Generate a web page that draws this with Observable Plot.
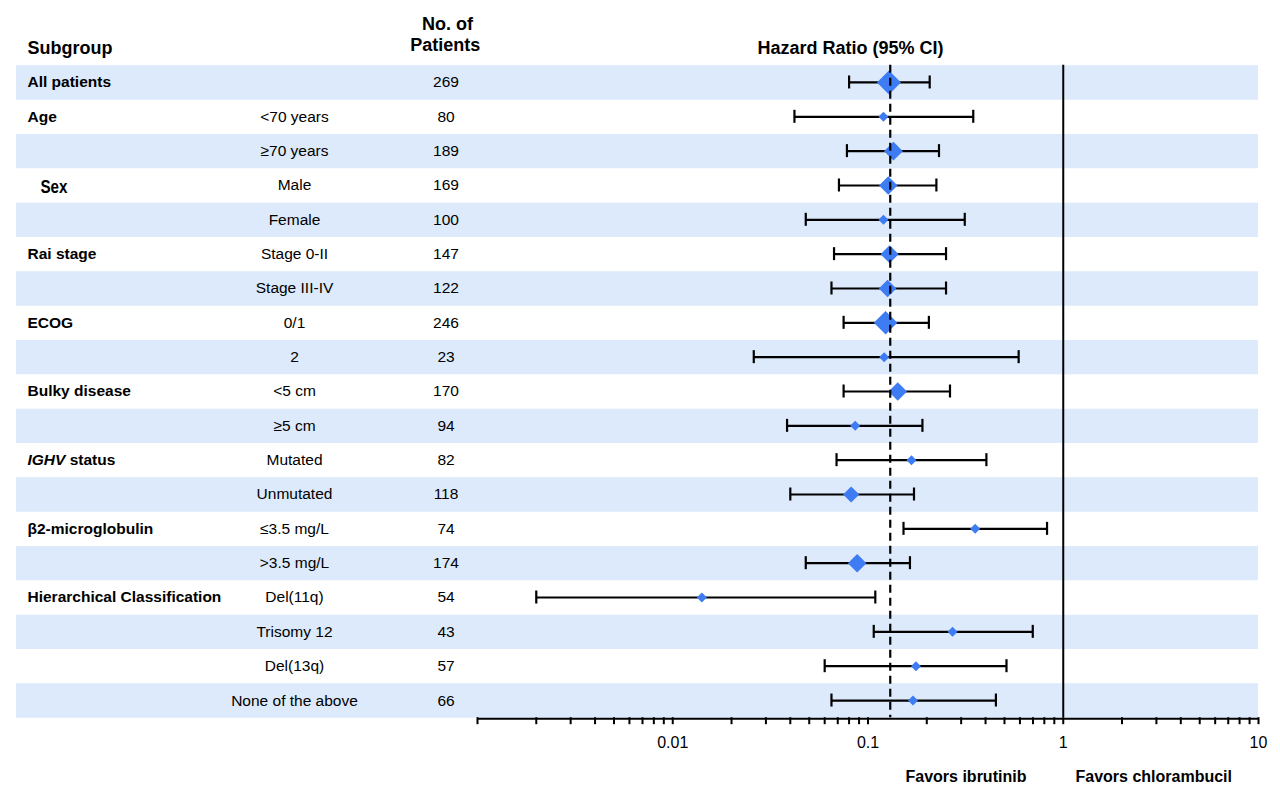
<!DOCTYPE html>
<html>
<head>
<meta charset="utf-8">
<script src="https://cdn.jsdelivr.net/npm/d3@7"></script>
<script src="https://cdn.jsdelivr.net/npm/@observablehq/plot@0.6"></script>
<style>
  html, body { margin: 0; padding: 0; background: #fff; overflow: hidden; }
  #chart svg { display: block; }
</style>
</head>
<body>
<div id="chart"></div>
<script>
// ---- data ----
const groups = ["All patients", "Age", "", "Sex", "", "Rai stage", "", "ECOG", "", "Bulky disease", "",
  "IGHV status", "", "β2-microglobulin", "", "Hierarchical Classification", "", "", ""];
const categories = ["", "<70 years", "≥70 years", "Male", "Female", "Stage 0-II", "Stage III-IV", "0/1", "2",
  "<5 cm", "≥5 cm", "Mutated", "Unmutated", "≤3.5 mg/L", ">3.5 mg/L", "Del(11q)", "Trisomy 12", "Del(13q)", "None of the above"];
const patients = [269, 80, 189, 169, 100, 147, 122, 246, 23, 170, 94, 82, 118, 74, 174, 54, 43, 57, 66];
const hazardRatio = [0.128, 0.120, 0.135, 0.127, 0.120, 0.129, 0.126, 0.123, 0.121, 0.142, 0.086, 0.167, 0.082, 0.354, 0.088, 0.0141, 0.271, 0.176, 0.170];
const ciLower = [0.080, 0.042, 0.078, 0.071, 0.048, 0.067, 0.065, 0.075, 0.026, 0.075, 0.0385, 0.069, 0.040, 0.152, 0.048, 0.0020, 0.107, 0.060, 0.065];
const ciUpper = [0.207, 0.346, 0.231, 0.224, 0.313, 0.251, 0.251, 0.205, 0.591, 0.263, 0.190, 0.404, 0.172, 0.826, 0.164, 0.109, 0.698, 0.512, 0.452];
const overallHR = 0.13;
const xDomain = [0.001, 10];
const tickValues = [0.001, 0.002, 0.003, 0.004, 0.005, 0.006, 0.007, 0.008, 0.009,
  0.01, 0.02, 0.03, 0.04, 0.05, 0.06, 0.07, 0.08, 0.09,
  0.1, 0.2, 0.3, 0.4, 0.5, 0.6, 0.7, 0.8, 0.9,
  1, 2, 3, 4, 5, 6, 7, 8, 9, 10];
const labeledTicks = [0.01, 0.1, 1, 10];
const tickLabels = ["0.01", "0.1", "1", "10"];

// ---- build table ----
const rows = categories.map((c, i) => ({
  i, group: groups[i], cat: c, n: patients[i], hr: hazardRatio[i], lo: ciLower[i], hi: ciUpper[i]
}));

const W = 1280, H = 799;
const mTop = 64.8, mBottom = H - 717.2, mLeft = 16, mRight = 22;
const rowH = (H - mTop - mBottom) / rows.length;
const band = "#dceafb";
const diamond = "#3d7cf2";
const FS = 15.5;

const chart = Plot.plot({
  width: W,
  height: H,
  marginTop: mTop,
  marginBottom: mBottom,
  marginLeft: mLeft,
  marginRight: mRight,
  style: { fontFamily: "'Liberation Sans', Arial, sans-serif", fontSize: "15.5px", color: "#000", background: "#fff" },
  x: { type: "log", domain: xDomain, range: [477, 1258], label: null },
  y: { type: "point", domain: rows.map(d => d.i), padding: 0.5, round: false, axis: null },
  r: { type: "linear", domain: [100, 122, 189, 246, 269], range: [4.5, 7.9, 8.5, 10.6, 10.8], clamp: true },
  marks: [
    // alternating bands
    Plot.ruleY(rows.filter(d => d.i % 2 === 0), { y: "i", stroke: band, strokeWidth: rowH }),
    // line of no effect
    Plot.ruleX([1], { stroke: "#000", strokeWidth: 2 }),
    // CI whiskers
    Plot.ruleY(rows, { y: "i", x1: "lo", x2: "hi", stroke: "#000", strokeWidth: 2.2 }),
    Plot.ruleX(rows, { x: "lo", y1: "i", y2: "i", insetTop: -6.5, insetBottom: -6.5, stroke: "#000", strokeWidth: 2.2 }),
    Plot.ruleX(rows, { x: "hi", y1: "i", y2: "i", insetTop: -6.5, insetBottom: -6.5, stroke: "#000", strokeWidth: 2.2 }),
    // point estimates
    Plot.dot(rows, { x: "hr", y: "i", r: "n", symbol: "diamond2", fill: diamond, stroke: "none" }),
    // overall HR dashed line
    Plot.ruleX([overallHR], { stroke: "#000", strokeWidth: 2.2, strokeDasharray: "8,5" }),
    // axis line
    Plot.ruleY([rows.length - 1], { x1: xDomain[0], x2: xDomain[1], dy: rowH / 2 + 1, stroke: "#000", strokeWidth: 2 }),
    Plot.axisX({
      ticks: tickValues,
      tickFormat: d => { const k = labeledTicks.indexOf(d); return k >= 0 ? tickLabels[k] : ""; },
      tickSize: 7, tickPadding: 12, fontSize: 16, strokeWidth: 2, stroke: "#000", label: null
    }),
    // table text
    Plot.text(rows, { filter: d => d.group !== "Sex", y: "i", text: "group", frameAnchor: "left", lineAnchor: "middle", dx: 11, textAnchor: "start", fontWeight: "bold", fontSize: FS }),
    Plot.text(rows, { filter: d => d.group === "Sex", y: "i", text: "group", frameAnchor: "left", lineAnchor: "middle", dx: 24, dy: 2, textAnchor: "start", fontWeight: "bold", fontSize: 18 }),
    Plot.text(rows, { y: "i", text: "cat", frameAnchor: "left", lineAnchor: "middle", dx: 278, textAnchor: "middle", fontSize: FS }),
    Plot.text(rows, { y: "i", text: d => String(d.n), frameAnchor: "left", lineAnchor: "middle", dx: 429.5, textAnchor: "middle", fontSize: FS }),
    // headers
    Plot.text(["Subgroup"], { frameAnchor: "top-left", lineAnchor: "middle", dx: 11, dy: -16.6, textAnchor: "start", fontWeight: "bold", fontSize: 18 }),
    Plot.text(["No. of"], { frameAnchor: "top-left", lineAnchor: "middle", dx: 431, dy: -41.3, textAnchor: "middle", fontWeight: "bold", fontSize: 18 }),
    Plot.text(["Patients"], { frameAnchor: "top-left", lineAnchor: "middle", dx: 428.7, dy: -19.6, textAnchor: "middle", fontWeight: "bold", fontSize: 18 }),
    Plot.text(["Hazard Ratio (95% CI)"], { frameAnchor: "top-left", lineAnchor: "middle", dx: 834, dy: -16.6, textAnchor: "middle", fontWeight: "bold", fontSize: 18 }),
    // footer
    Plot.text(["Favors ibrutinib"], { frameAnchor: "bottom-left", lineAnchor: "middle", dx: 889, dy: 58.8, textAnchor: "start", fontWeight: "bold", fontSize: 16 }),
    Plot.text(["Favors chlorambucil"], { frameAnchor: "bottom-left", lineAnchor: "middle", dx: 1059, dy: 58.8, textAnchor: "start", fontWeight: "bold", fontSize: 16 })
  ]
});

const ns = "http://www.w3.org/2000/svg";
chart.querySelectorAll("text").forEach(t => {
  // italicise gene name in "IGHV status"
  if (t.textContent === "IGHV status") {
    t.textContent = "";
    const a = document.createElementNS(ns, "tspan");
    a.setAttribute("font-style", "italic");
    a.textContent = "IGHV";
    const b = document.createElementNS(ns, "tspan");
    b.textContent = " status";
    t.appendChild(a); t.appendChild(b);
  }
  // narrow face used for "Sex" in the original
  if (t.textContent === "Sex") {
    t.setAttribute("textLength", "27");
    t.setAttribute("lengthAdjust", "spacingAndGlyphs");
  }
});

document.getElementById("chart").appendChild(chart);
</script>
</body>
</html>
